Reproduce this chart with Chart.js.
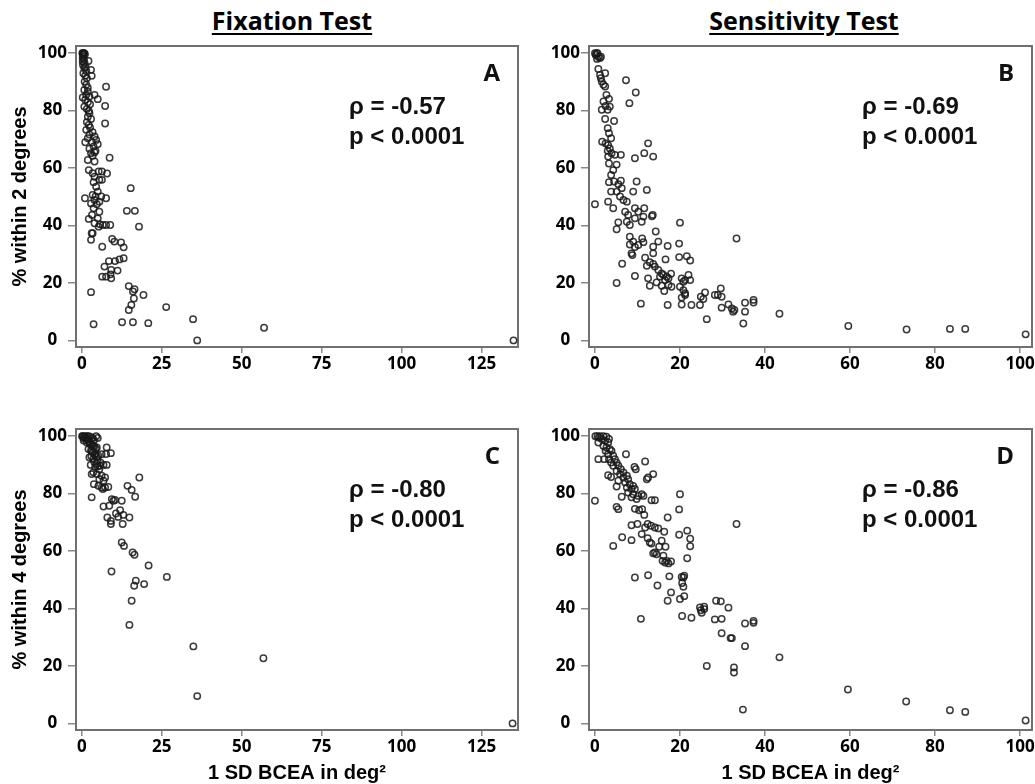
<!DOCTYPE html>
<html>
<head>
<meta charset="utf-8">
<script src="https://cdn.jsdelivr.net/npm/chart.js@4.4.1/dist/chart.umd.min.js"></script>
<style>
  html, body { margin: 0; padding: 0; background: #fff; overflow: hidden; width: 1035px; height: 784px; }
  .panel { position: absolute; }
  .title {
    position: absolute; top: 8px; width: 400px; text-align: center;
    font: bold 25px/25px 'Open Sans', sans-serif; color: #000;
    text-decoration: underline; text-decoration-thickness: 2px; text-underline-offset: 3px;
  }
</style>
</head>
<body>
<div class="title" style="left:92px">Fixation Test</div>
<div class="title" style="left:604px">Sensitivity Test</div>
<div class="panel" style="left:0;top:34px;width:540px;height:353px"><canvas id="chartA"></canvas></div>
<div class="panel" style="left:540px;top:34px;width:515px;height:353px"><canvas id="chartB"></canvas></div>
<div class="panel" style="left:0;top:417px;width:540px;height:367px"><canvas id="chartC"></canvas></div>
<div class="panel" style="left:540px;top:417px;width:515px;height:367px"><canvas id="chartD"></canvas></div>
<script>
// tick labels
const fixTicks = [0, 25, 50, 75, 100, 125];
const sensTicks = [0, 20, 40, 60, 80, 100];
const pctTicks = [0, 20, 40, 60, 80, 100];

// panel letters and stats
const letters = ["A", "B", "C", "D"];
const rhoText = ["ρ = -0.57", "ρ = -0.69", "ρ = -0.80", "ρ = -0.86"];
const pText = ["p < 0.0001", "p < 0.0001", "p < 0.0001", "p < 0.0001"];

// [1 SD BCEA (deg²), % within 2 degrees] - fixation test
const fix2 = [
  [0.2,100],[0.3,100],[0.5,100],[0.6,99.8],[0.8,100],[1.0,99.6],[0.4,99.4],[0.5,98.8],[0.3,98.3],[0.7,97.7],
  [0.3,97.1],[0.9,96.5],[0.4,95.9],[1.2,95.3],[2.1,97.3],[0.8,94.8],[1.4,93.8],[0.5,93.0],[1.1,92.2],[2.9,94.2],
  [3.1,92.1],[1.6,91.3],[0.9,90.1],[1.4,89.0],[1.9,88.0],[0.8,87.2],[1.9,86.6],[1.4,85.5],[0.3,84.6],[2.4,84.9],
  [1.1,83.8],[1.9,82.9],[2.6,82.2],[0.8,81.4],[1.6,80.6],[2.2,79.9],[2.4,79.1],[1.9,77.9],[2.9,77.1],[1.6,76.0],
  [2.2,75.0],[2.6,74.1],[1.4,73.3],[3.4,72.5],[2.4,71.7],[4.0,71.0],[1.9,70.4],[4.5,69.8],[3.2,69.0],[1.1,69.0],
  [5.0,68.3],[3.7,67.5],[2.4,66.7],[4.3,66.0],[2.9,65.2],[3.4,64.3],[4.0,65.5],[1.9,62.8],[4.0,62.3],[2.2,59.3],
  [3.4,58.2],[5.3,58.8],[4.0,57.0],[5.5,55.9],[3.7,55.1],[4.5,53.5],[5.0,51.8],[3.4,50.6],[4.3,50.1],[6.1,50.1],
  [4.0,48.9],[5.5,48.3],[2.9,47.7],[4.7,47.4],[3.7,46.0],[5.5,44.8],[3.2,43.7],[5.0,42.5],[4.0,40.8],[5.7,40.4],
  [6.6,40.2],[7.6,40.2],[8.9,40.2],[5.3,39.6],
  [7.6,88.3],[4.0,85.5],[5.0,84.0],[7.3,81.6],[7.3,75.5],[8.7,63.6],[7.9,58.1],[6.3,58.8],[6.3,55.9],[15.3,53.0],
  [1.0,49.5],[7.6,49.5],[14.1,45.1],[16.6,45.1],[17.9,39.6],[2.2,42.3],[3.1,37.3],[3.4,37.3],[2.9,35.0],[6.4,32.6],
  [9.5,35.3],[10.2,34.4],[12.3,34.1],[13.1,32.4],[8.5,27.6],[10.4,27.6],[11.8,28.2],[13.1,28.6],[7.1,25.7],[9.2,24.5],
  [9.0,23.0],[11.2,24.3],[6.4,22.2],[7.6,22.2],[9.2,21.6],[2.9,16.8],[14.7,18.9],[16.5,17.8],[16.0,17.0],[19.3,15.8],
  [16.3,14.6],[15.5,12.3],[14.7,10.6],[26.4,11.6],[3.7,5.6],[12.6,6.3],[16.0,6.3],[20.8,6.0],[34.8,7.4],[36.1,0],
  [57.0,4.4],[135.0,0]
];

// [1 SD BCEA (deg²), % within 2 degrees] - sensitivity test
const sens2 = [
  [0,100],[0.4,100],[0.6,100],[0.2,99.4],[0.8,98.8],[0.5,98.0],[1.2,98.3],[1.4,98.8],[0.8,94.5],[1.2,92.4],
  [2.4,93.0],[1.4,91.3],[1.6,90.1],[2.0,89.0],[2.4,88.4],[7.3,90.6],[9.6,86.3],[8.1,82.6],[2.7,85.5],[3.3,84.1],
  [2.0,83.2],[2.5,81.6],[1.6,80.3],[3.0,80.3],[3.5,81.4],[4.5,76.4],[2.4,77.1],[3.0,73.9],[3.3,72.1],[3.8,70.4],
  [1.7,69.2],[2.5,68.6],[3.1,68.0],[3.5,66.8],[3.0,66.0],[3.9,65.2],[3.1,64.0],[4.7,64.6],[6.1,64.6],[3.3,61.6],
  [5.1,61.2],[4.3,59.3],[12.5,68.6],[11.6,65.2],[13.7,64.0],[9.4,63.4],[3.8,57.6],[3.3,55.1],[4.5,55.3],[5.5,54.4],
  [6.1,55.6],[3.8,51.8],[5.1,51.8],[6.3,53.0],[5.9,50.1],[6.7,48.9],[7.5,48.3],[3.1,48.3],[4.3,46.0],[9.8,55.3],
  [12.2,52.4],[9.0,51.8],[0,47.4],[7.1,44.8],[7.8,43.7],[7.5,41.3],[8.2,40.2],[9.4,46.0],[9.4,42.5],[10.2,44.8],
  [11.6,46.0],[11.4,43.1],[11.0,41.3],[5.5,41.1],[5.1,38.7],[13.6,43.7],[13.4,43.2],[14.3,37.9],[20.0,41.0],[8.2,36.1],
  [9.0,34.4],[8.2,33.4],[9.4,32.5],[8.6,30.3],[8.8,29.7],[10.2,33.2],[11.1,35.5],[11.4,34.2],[13.7,32.6],[14.9,34.4],
  [17.1,32.9],[13.7,30.3],[11.8,28.8],[16.6,28.2],[19.8,33.7],[19.8,29.0],[21.6,29.3],[22.4,27.8],[33.3,35.5],[6.4,26.7],
  [12.2,26.0],[12.9,27.2],[13.7,26.6],[14.1,25.7],[14.9,24.5],[15.7,23.3],[15.3,22.2],[16.1,22.8],[16.9,22.2],[16.5,21.0],
  [17.3,21.6],[17.9,23.2],[12.5,21.6],[14.5,20.2],[12.9,19.0],[15.7,19.0],[17.3,19.3],[18.0,18.7],[16.3,17.2],[9.4,22.4],
  [5.1,20.0],[20.4,21.6],[21.2,21.0],[22.0,22.8],[22.4,21.0],[20.8,20.4],[20.0,18.7],[20.8,17.5],[21.2,16.4],[20.4,14.9],
  [21.2,15.8],[10.8,12.8],[17.1,12.3],[20.4,12.5],[22.7,12.3],[24.7,12.3],[24.9,15.2],[25.9,16.7],[25.5,14.4],[26.3,7.4],
  [28.2,15.8],[28.9,15.8],[29.6,18.1],[29.8,15.2],[29.8,11.4],[31.4,12.5],[32.2,11.1],[32.5,10.0],[32.8,10.6],[35.3,10.0],
  [34.9,5.9],[35.3,13.1],[37.3,14.1],[37.3,13.2],[43.4,9.3],[59.6,5.0],[73.3,3.8],[83.5,4.0],[87.1,4.0],[101.3,2.1]
];

// [1 SD BCEA (deg²), % within 4 degrees] - fixation test
const fix4 = [
  [0.1,100],[0.3,100],[1.0,100],[1.6,100],[2.1,100],[2.6,99.8],[3.4,99.4],[0.7,99.2],[2.1,98.8],[3.8,98.6],
  [0.6,98.5],[1.2,99.5],[4.5,100],[5.0,99.4],[0.5,99.8],[0.9,99.6],[1.4,99.2],[1.8,98.9],[2.3,98.0],[2.8,97.6],
  [3.3,96.9],[3.9,96.4],[4.4,95.6],[2.9,95.0],[3.4,94.4],[4.0,93.5],[4.8,92.8],[3.0,93.0],[3.9,91.0],[4.6,90.4],
  [5.0,89.5],[1.6,97.8],[2.6,97.2],[3.6,96.6],[4.7,96.1],[2.1,95.5],[3.1,94.7],[4.2,94.0],[5.2,93.2],[6.2,93.7],
  [2.4,92.6],[3.6,92.1],[4.9,91.6],[5.9,90.8],[2.8,90.0],[4.2,89.3],[5.5,88.5],[3.6,87.4],[4.7,86.8],[6.2,86.2],
  [3.1,86.8],[5.5,85.0],[6.8,84.5],[3.8,83.3],[5.2,82.7],[6.2,82.1],[7.3,82.1],[8.3,82.3],[6.6,81.6],[7.3,85.6],
  [5.7,89.7],[6.8,90.0],[7.8,96.1],[7.6,93.8],[9.1,94.1],[7.8,90.0],
  [3.1,78.7],[18.0,85.6],[14.3,82.7],[15.6,81.3],[16.7,78.9],[9.4,78.1],[9.9,77.5],[10.4,77.8],[12.5,77.5],[6.8,75.5],
  [8.6,75.8],[12.0,74.2],[10.7,73.1],[13.0,72.6],[11.4,71.9],[14.9,71.7],[8.0,71.7],[9.1,70.5],[9.1,69.4],[12.8,69.4],
  [12.5,63.0],[13.2,61.8],[15.9,59.5],[16.5,58.7],[20.9,55.0],[9.3,52.9],[26.6,51.0],[16.9,49.7],[16.4,47.9],[19.5,48.5],
  [15.6,42.7],[14.9,34.3],[34.9,26.8],[56.8,22.7],[36.1,9.5],[134.7,0]
];

// [1 SD BCEA (deg²), % within 4 degrees] - sensitivity test
const sens4 = [
  [0.1,100],[0.6,100],[1.2,100],[2.0,100],[2.7,99.8],[3.3,99.0],[0.9,99.5],[1.6,99.0],[2.4,98.4],[0.8,97.8],
  [3.1,97.8],[2.0,96.6],[2.7,96.1],[3.5,95.5],[3.9,94.9],[2.5,94.9],[3.1,93.7],[4.3,93.2],[2.2,92.0],[3.3,92.0],
  [4.7,92.0],[3.8,90.8],[5.1,90.8],[5.5,89.7],[4.3,89.7],[6.1,88.5],[5.1,87.9],[6.7,87.4],[5.9,86.8],[7.5,86.2],
  [6.7,85.6],[7.8,85.0],[5.5,84.5],[7.1,83.9],[8.2,83.3],[9.0,82.7],[7.5,82.1],[8.6,81.6],[9.4,81.6],[7.8,80.4],
  [9.0,79.8],[10.2,79.2],[8.6,78.7],[9.8,78.1],[11.0,79.8],[11.4,79.2],
  [7.3,93.7],[11.8,91.2],[0.8,92.0],[3.1,86.4],[3.8,85.8],[9.3,89.3],[9.6,88.5],[12.5,85.6],[13.7,86.8],[12.2,85.0],
  [5.1,82.5],[6.3,78.9],[0,77.5],[13.3,77.7],[14.1,77.7],[20.0,79.8],[5.1,75.4],[5.5,74.6],[9.4,74.7],[10.4,74.2],
  [11.1,74.6],[11.6,72.6],[17.1,71.7],[19.8,74.5],[8.6,69.0],[10.0,69.4],[11.0,65.9],[12.4,69.4],[13.2,68.8],[14.1,68.2],
  [12.4,64.5],[14.9,67.9],[16.3,66.7],[6.4,64.8],[8.6,63.8],[4.3,61.8],[11.8,68.2],[33.3,69.4],[19.8,65.7],[21.7,67.1],
  [22.4,64.3],[22.4,61.7],[21.7,57.5],[12.9,63.0],[13.3,62.6],[15.7,63.6],[15.1,61.5],[16.6,61.5],[14.1,59.5],[13.7,59.2],
  [14.5,58.9],[16.1,58.4],[15.9,56.6],[16.5,56.0],[16.9,56.6],[17.3,55.7],[17.9,56.4],[9.4,50.8],[12.5,51.6],[17.5,51.2],
  [14.7,48.0],[20.4,51.0],[20.8,50.8],[21.0,51.4],[20.5,48.9],[20.8,47.6],[20.0,43.3],[21.0,44.3],[17.9,45.6],[17.1,42.7],
  [10.8,36.4],[20.5,37.4],[22.7,36.8],[24.7,40.4],[24.9,39.4],[25.7,39.8],[25.7,40.6],[25.1,38.5],[28.5,42.7],[29.6,42.5],
  [31.4,40.3],[28.2,36.2],[29.8,36.4],[29.8,31.4],[31.9,29.7],[32.2,29.7],[35.3,34.8],[37.3,35.7],[37.3,35.0],[35.3,26.9],
  [43.4,23.0],[26.3,20.0],[32.7,19.5],[32.7,17.7],[34.8,4.8],[59.5,11.8],[73.2,7.6],[83.5,4.6],[87.1,4.0],[101.3,1.0]
];

Chart.defaults.font.family = "'Open Sans', sans-serif";
Chart.defaults.color = "#000";

// grey box round the plotting area
const boxFrame = {
  id: "boxFrame",
  beforeDatasetsDraw(chart) {
    const { ctx, chartArea: a } = chart;
    ctx.save();
    ctx.strokeStyle = "#707070";
    ctx.lineWidth = 2;
    ctx.strokeRect(a.left, a.top, a.right - a.left, a.bottom - a.top);
    ctx.restore();
  },
};

// panel letter + correlation text
const panelText = {
  id: "panelText",
  afterDatasetsDraw(chart, args, opts) {
    const { ctx, chartArea: a } = chart;
    ctx.save();
    ctx.fillStyle = "#111";
    ctx.textBaseline = "alphabetic";
    ctx.font = "bold 24px 'Open Sans'";
    ctx.textAlign = "right";
    ctx.fillText(opts.letter, a.right - 18, a.top + 35);
    ctx.font = "bold 24px 'Liberation Sans'";
    ctx.textAlign = "left";
    ctx.fillText(opts.rho, a.left + 273, a.top + 68);
    ctx.fillText(opts.p, a.left + 273, a.top + 98);
    ctx.restore();
  },
};

function makePanel(id, idx, points, xTicks, xMin, xMax, yTitle, xTitle, pad, yWidth, xHeight) {
  const config = {
    type: "scatter",
    data: {
      datasets: [
        {
          data: points.map((p) => ({ x: p[0], y: p[1] })),
          pointStyle: "circle",
          pointRadius: 3.2,
          pointBorderWidth: 1.5,
          borderColor: "rgba(25,25,25,0.85)",
          backgroundColor: "rgba(0,0,0,0)",
          pointHoverRadius: 3.2,
        },
      ],
    },
    options: {
      responsive: true,
      maintainAspectRatio: false,
      animation: false,
      events: [],
      layout: { padding: pad },
      scales: {
        x: {
          type: "linear",
          min: xMin,
          max: xMax,
          afterBuildTicks: (s) => { s.ticks = xTicks.map((v) => ({ value: v })); },
          afterFit: (s) => { s.height = xHeight; },
          border: { display: false },
          grid: { drawOnChartArea: false, drawTicks: true, tickLength: 6, color: "#888", lineWidth: 1.5 },
          ticks: { autoSkip: false, maxRotation: 0, padding: 1, color: "#000", font: { size: 17, weight: "bold" } },
          title: {
            display: !!xTitle,
            text: xTitle,
            color: "#000",
            padding: { top: 0, bottom: 1 },
            font: { family: "'Liberation Sans'", size: 20, weight: "bold", lineHeight: 1 },
          },
        },
        y: {
          type: "linear",
          min: -2.3,
          max: 102.5,
          afterBuildTicks: (s) => { s.ticks = pctTicks.map((v) => ({ value: v })); },
          afterFit: (s) => { s.width = yWidth; },
          border: { display: false },
          grid: { drawOnChartArea: false, drawTicks: true, tickLength: 8, color: "#888", lineWidth: 1.5 },
          ticks: { crossAlign: "center", padding: 1, color: "#000", font: { size: 17, weight: "bold" } },
          title: {
            display: !!yTitle,
            text: yTitle,
            color: "#000",
            padding: { top: 5, bottom: 0 },
            font: { family: "'Liberation Sans'", size: 20, weight: "bold", lineHeight: 1.2 },
          },
        },
      },
      plugins: {
        legend: { display: false },
        tooltip: { enabled: false },
        panelText: { letter: letters[idx], rho: rhoText[idx], p: pText[idx] },
      },
    },
    plugins: [boxFrame, panelText],
  };
  return new Chart(document.getElementById(id), config);
}

const padLeft = { left: 3, top: 12, right: 22, bottom: 0 };
const padRight = { left: 0, top: 12, right: 23, bottom: 0 };

makePanel("chartA", 0, fix2, fixTicks, -1.8, 136.4, "% within 2 degrees", "", padLeft, 73, 40);
makePanel("chartB", 1, sens2, sensTicks, -1.4, 102.8, "", "", padRight, 49, 40);
makePanel("chartC", 2, fix4, fixTicks, -1.8, 136.4, "% within 4 degrees", "1 SD BCEA in deg²", padLeft, 73, 54);
makePanel("chartD", 3, sens4, sensTicks, -1.4, 102.8, "", "1 SD BCEA in deg²", padRight, 49, 54);
</script>
</body>
</html>
